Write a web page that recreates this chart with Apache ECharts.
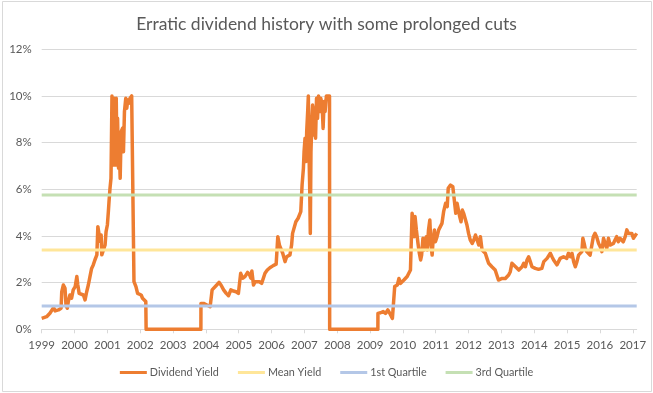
<!DOCTYPE html>
<html>
<head>
<meta charset="utf-8">
<script src="https://cdn.jsdelivr.net/npm/echarts@6/dist/echarts.min.js"></script>
<style>
  html, body { margin: 0; padding: 0; background: #ffffff; }
  #chart { width: 653px; height: 393px; }
</style>
</head>
<body>
<div id="chart"></div>
<script>
// ---- Data ----
const chartTitle = 'Erratic dividend history with some prolonged cuts';
const seriesNames = ['Dividend Yield', 'Mean Yield', '1st Quartile', '3rd Quartile'];

// decimal years of the dividend-yield observations
const yearPoints = [
  1999.00,1999.05,1999.15,1999.25,1999.36,1999.41,1999.51,1999.59,1999.61,1999.66,
  1999.71,1999.74,1999.78,1999.81,1999.86,1999.91,1999.96,2000.02,2000.07,2000.10,
  2000.14,2000.20,2000.27,2000.32,2000.37,2000.42,2000.47,2000.52,2000.57,2000.62,
  2000.68,2000.71,2000.75,2000.78,2000.81,2000.83,2000.88,2000.93,2000.96,2001.00,
  2001.03,2001.05,2001.08,2001.11,2001.12,2001.14,2001.17,2001.19,2001.21,2001.23,
  2001.25,2001.27,2001.29,2001.31,2001.34,2001.36,2001.39,2001.42,2001.46,2001.49,
  2001.52,2001.56,2001.59,2001.62,2001.66,2001.69,2001.74,2001.80,2001.81,2001.87,
  2001.92,2001.97,2002.03,2002.07,2002.13,2002.17,2002.18,
  2003.848,2003.85,2003.93,2004.03,2004.13,2004.18,2004.19,2004.25,2004.33,2004.40,
  2004.46,2004.54,2004.62,2004.69,2004.76,2004.84,2004.92,2004.99,2005.04,2005.06,
  2005.12,2005.19,2005.27,2005.33,2005.37,2005.40,2005.45,2005.50,2005.55,2005.63,
  2005.70,2005.75,2005.80,2005.87,2005.95,2006.05,2006.14,2006.18,2006.19,2006.24,
  2006.28,2006.34,2006.41,2006.46,2006.51,2006.56,2006.61,2006.64,2006.68,2006.74,
  2006.81,2006.86,2006.89,2006.93,2006.97,2006.99,2007.02,2007.05,2007.07,2007.10,
  2007.12,2007.14,2007.16,2007.18,2007.20,2007.23,2007.25,2007.28,2007.31,2007.34,
  2007.37,2007.40,2007.43,2007.47,2007.50,2007.54,2007.57,2007.60,2007.63,2007.67,
  2007.72,2007.765,2007.77,
  2009.238,2009.24,2009.32,2009.40,2009.47,2009.54,2009.61,2009.68,2009.73,2009.75,
  2009.79,2009.83,2009.88,2009.93,2009.98,2010.03,2010.08,2010.13,2010.18,2010.23,
  2010.25,2010.28,2010.31,2010.34,2010.37,2010.41,2010.46,2010.50,2010.54,2010.57,
  2010.61,2010.64,2010.67,2010.71,2010.74,2010.78,2010.82,2010.85,2010.89,2010.92,
  2010.96,2010.99,2011.04,2011.09,2011.14,2011.19,2011.24,2011.30,2011.35,2011.38,
  2011.45,2011.52,2011.58,2011.61,2011.65,2011.69,2011.73,2011.77,2011.81,2011.85,
  2011.90,2011.95,2012.00,2012.05,2012.11,2012.16,2012.21,2012.26,2012.31,2012.36,
  2012.41,2012.46,2012.51,2012.56,2012.61,2012.66,2012.71,2012.76,2012.81,2012.86,
  2012.91,2012.97,2013.02,2013.07,2013.12,2013.17,2013.22,2013.27,2013.32,2013.37,
  2013.43,2013.48,2013.53,2013.58,2013.63,2013.68,2013.73,2013.78,2013.83,2013.88,
  2013.93,2013.98,2014.03,2014.08,2014.13,2014.18,2014.23,2014.29,2014.34,2014.39,
  2014.44,2014.49,2014.54,2014.59,2014.64,2014.69,2014.74,2014.79,2014.84,2014.89,
  2014.94,2014.99,2015.04,2015.10,2015.15,2015.20,2015.25,2015.30,2015.35,2015.40,
  2015.45,2015.48,2015.52,2015.55,2015.60,2015.65,2015.70,2015.75,2015.80,2015.85,
  2015.90,2015.96,2016.01,2016.06,2016.11,2016.16,2016.21,2016.26,2016.31,2016.36,
  2016.41,2016.46,2016.51,2016.56,2016.61,2016.66,2016.71,2016.77,2016.82,2016.87,
  2016.92,2016.97,2017.02,2017.07,2017.12
];

// dividend yield in percent, one per entry of yearPoints
const yieldPct = [
  0.47,0.40,0.54,0.69,0.93,0.79,0.83,0.90,1.60,1.90,
  1.76,1.04,0.90,1.19,1.47,1.33,1.69,1.83,2.26,1.90,
  1.54,1.61,1.47,1.26,1.61,1.90,2.26,2.61,2.76,2.97,
  3.19,4.40,4.33,3.76,4.04,3.19,3.26,3.61,4.19,4.47,
  5.04,5.47,6.04,6.47,7.60,10.00,8.76,7.04,9.90,8.33,
  7.04,9.90,7.61,9.04,6.90,7.90,6.47,8.47,8.61,7.61,
  9.33,9.90,9.47,9.83,9.69,9.90,10.00,10.00,2.04,1.83,
  1.54,1.61,1.47,1.33,1.26,1.19,0.00,
  0.00,1.11,1.11,1.04,0.97,0.97,1.69,1.76,1.90,2.01,
  1.90,1.69,1.54,1.44,1.69,1.64,1.61,1.54,1.61,2.40,
  2.19,2.26,2.44,2.33,2.19,2.50,1.90,2.04,2.11,2.04,
  1.97,2.19,2.40,2.54,2.64,2.73,2.79,2.83,3.97,3.61,
  3.47,3.26,2.90,3.11,3.04,3.19,3.61,4.11,4.19,4.61,
  4.76,4.76,5.04,6.19,6.90,7.61,8.19,7.19,8.47,9.33,
  10.00,7.61,6.19,4.11,7.61,9.04,9.61,8.33,9.47,8.19,
  9.90,9.04,10.00,9.33,9.90,9.61,8.61,9.76,9.33,10.00,
  10.00,10.00,0.00,
  0.00,0.68,0.71,0.76,0.68,0.83,0.66,0.47,0.40,1.83,
  1.76,1.90,2.18,1.97,2.04,2.11,2.04,2.26,2.28,2.54,
  3.54,4.97,4.68,3.97,4.83,4.26,3.68,3.26,2.97,3.18,
  3.90,3.40,3.54,3.97,3.40,4.26,4.68,3.68,3.18,3.83,
  4.26,3.75,3.97,4.26,4.33,4.54,5.04,5.40,5.26,6.04,
  6.18,6.11,6.04,4.97,5.40,5.47,4.83,4.61,5.11,4.97,
  4.97,4.47,4.11,3.83,3.68,3.83,4.04,3.83,3.61,3.97,
  3.40,3.33,3.26,3.04,2.83,2.90,2.68,2.61,2.54,2.33,
  2.11,2.04,2.18,2.11,2.18,2.11,2.33,2.47,2.83,2.76,
  2.68,2.61,2.54,2.61,2.68,2.83,2.68,2.97,3.11,2.90,
  2.68,2.68,2.61,2.68,2.57,2.54,2.61,2.90,2.97,3.04,
  2.97,3.26,3.11,2.97,2.90,2.76,2.76,3.04,2.97,3.11,
  3.18,3.04,3.26,3.11,3.26,2.90,2.68,2.90,3.18,3.26,
  3.33,3.90,3.68,3.47,3.33,3.26,3.18,3.26,3.97,4.11,
  3.97,3.68,3.54,3.33,3.90,3.68,3.47,3.90,3.61,3.61,
  3.68,3.83,3.97,3.75,3.90,3.97,3.75,3.97,4.26,4.11,
  4.04,4.11,3.90,3.97,4.11
];

const meanYield = 3.40;
const firstQuartile = 1.00;
const thirdQuartile = 5.76;

const yearTicks = [1999,2000,2001,2002,2003,2004,2005,2006,2007,2008,2009,2010,2011,2012,2013,2014,2015,2016,2017];
const yTicks = [0, 2, 4, 6, 8, 10, 12];

// ---- Chart ----
const xStart = yearTicks[0];
const xEnd = yearPoints[yearPoints.length - 1];
const flat = v => [[xStart, v], [xEnd, v]];

const FONT = 'Lato, "Open Sans", sans-serif';
const GREY = '#595959';

const chart = echarts.init(document.getElementById('chart'), null, { renderer: 'canvas' });
chart.setOption({
  animation: false,
  backgroundColor: '#ffffff',
  title: {
    text: chartTitle,
    left: 'center',
    top: 10,
    textStyle: { fontFamily: FONT, fontSize: 17.5, fontWeight: 'normal', color: GREY }
  },
  graphic: [{
    type: 'rect',
    shape: { x: 2.5, y: 1.5, width: 649, height: 390 },
    style: { fill: 'none', stroke: '#d9d9d9', lineWidth: 1 },
    silent: true, z: -1
  }],
  legend: {
    bottom: 10,
    left: 'center',
    icon: 'rect',
    itemWidth: 27,
    itemHeight: 3,
    itemGap: 19,
    textStyle: { fontFamily: FONT, fontSize: 10.8, color: GREY, padding: [0, 0, 0, -2] },
    data: seriesNames
  },
  grid: { left: 41.7, right: 16.3, top: 49.3, bottom: 63.7, containLabel: false },
  xAxis: {
    type: 'value',
    min: xStart,
    max: xEnd,
    interval: 1,
    splitLine: { show: false },
    axisLine: { show: true, lineStyle: { color: '#d9d9d9', width: 1 } },
    axisTick: { show: true, length: 4, customValues: yearTicks, lineStyle: { color: '#d9d9d9' } },
    axisLabel: {
      customValues: yearTicks,
      formatter: v => String(v),
      fontFamily: FONT, fontSize: 11.5, color: GREY, margin: 10
    }
  },
  yAxis: {
    type: 'value',
    min: yTicks[0],
    max: yTicks[yTicks.length - 1],
    interval: 2,
    axisLine: { show: false },
    axisTick: { show: false },
    splitLine: { lineStyle: { color: '#d9d9d9', width: 1 } },
    axisLabel: {
      formatter: '{value}%',
      fontFamily: FONT, fontSize: 11.5, color: GREY, margin: 10
    }
  },
  series: [
    {
      name: seriesNames[0], type: 'line', showSymbol: false, symbol: 'none',
      data: yearPoints.map((x, i) => [x, yieldPct[i]]),
      lineStyle: { color: '#ED7D31', width: 3.5, join: 'round' },
      itemStyle: { color: '#ED7D31' }
    },
    {
      name: seriesNames[1], type: 'line', symbol: 'none', data: flat(meanYield),
      lineStyle: { color: '#FFE699', width: 3 }, itemStyle: { color: '#FFE699' }
    },
    {
      name: seriesNames[2], type: 'line', symbol: 'none', data: flat(firstQuartile),
      lineStyle: { color: '#B4C7E7', width: 3 }, itemStyle: { color: '#B4C7E7' }
    },
    {
      name: seriesNames[3], type: 'line', symbol: 'none', data: flat(thirdQuartile),
      lineStyle: { color: '#C5E0B4', width: 3 }, itemStyle: { color: '#C5E0B4' }
    }
  ]
});
</script>
</body>
</html>
